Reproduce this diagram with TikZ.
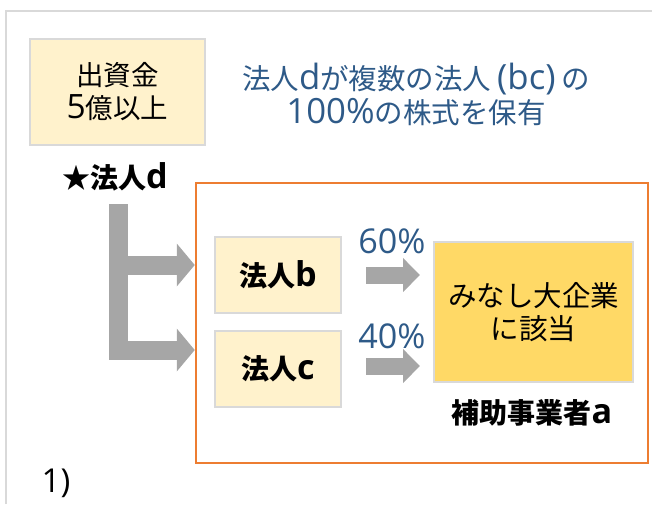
\documentclass[tikz,border=0pt]{standalone}
\usepackage{fontspec}
\setmainfont{Noto Sans CJK JP}
\newfontfamily\latinfont{Open Sans}[Scale=1.22]
\newcommand\lt[1]{{\latinfont #1}}
\usetikzlibrary{arrows.meta, positioning}
\definecolor{boxfill}{HTML}{FFF2CC}
\definecolor{boxline}{HTML}{D9D9D9}
\definecolor{keyfill}{HTML}{FFD966}
\definecolor{orangeline}{HTML}{ED7D31}
\definecolor{textblue}{HTML}{2E5A88}
\definecolor{arrowgray}{HTML}{A6A6A6}
\tikzset{
  company/.style={draw=boxline, line width=2pt, fill=boxfill, inner sep=0pt,
    minimum width=126, minimum height=76, font=\fontsize{28}{33}\selectfont\bfseries},
  plaintxt/.style={inner sep=0pt, align=center, font=\fontsize{27}{33}\selectfont},
  bluetxt/.style={plaintxt, text=textblue, font=\fontsize{28.5}{34}\selectfont},
  boldtxt/.style={inner sep=0pt, font=\fontsize{28}{33}\selectfont\bfseries},
  ownarrow/.style={draw=arrowgray, line width=19pt, line join=miter,
    -{Triangle[length=18pt, width=42pt]}},
  sharearrow/.style={draw=arrowgray, line width=17pt,
    -{Triangle[length=17pt, width=33pt]}, shorten <=24pt, shorten >=13pt}
}
\begin{document}
\begin{tikzpicture}[x=1pt, y=-1pt]
\useasboundingbox (0,0) rectangle (652,504);
\draw[boxline, line width=2pt] (6,504) |- (652,11);
% parent company
\node[company, font=\fontsize{27.5}{33}\selectfont, align=center,
  minimum width=175, minimum height=106] (capital) at (117.5,92) {出資金\\\lt{5}億以上};
\node[bluetxt] (heading) at (416,94) {法人\lt{d}が複数の法人\lt{\,(bc)\,}の\\\lt{100\%}の株式を保有};
\node[boldtxt] (dname) at (115,177) {★法人\lt{d}};
% group
\node[draw=orangeline, line width=2.5pt, minimum width=452, minimum height=280,
  inner sep=0pt] (grp) at (422,323) {};
\node[company] (nb) at (278,275) {法人\lt{b}};
\node[company] (nc) at (278,369) {法人\lt{c}};
\node[company, fill=keyfill, font=\fontsize{28.5}{33}\selectfont, align=center,
  minimum width=199, minimum height=140] (big) at (533.5,312) {みなし大企業\\に該当};
\node[boldtxt] (subsid) at (532,413) {補助事業者\lt{a}};
\node[bluetxt, font=\fontsize{28}{34}\selectfont] (p60) at (392,241) {\lt{60\%}};
\node[bluetxt, font=\fontsize{28}{34}\selectfont] (p40) at (392,336) {\lt{40\%}};
\node[plaintxt] (note) at (56,483) {\lt{1)}};
% arrows
\coordinate (trunk) at (118,204);
\coordinate (tipb) at ([yshift=10pt]nb.west -| grp.west);
\coordinate (tipc) at ([yshift=19pt]nc.west -| grp.west);
\draw[ownarrow] (trunk) |- (tipc);
\draw[ownarrow] (trunk |- tipb) -- (tipb);
\draw[sharearrow] (nb.east) -- (nb.east -| big.west);
\draw[sharearrow] ([yshift=3pt]nc.east) -- ([yshift=3pt]nc.east -| big.west);
\end{tikzpicture}
\end{document}
